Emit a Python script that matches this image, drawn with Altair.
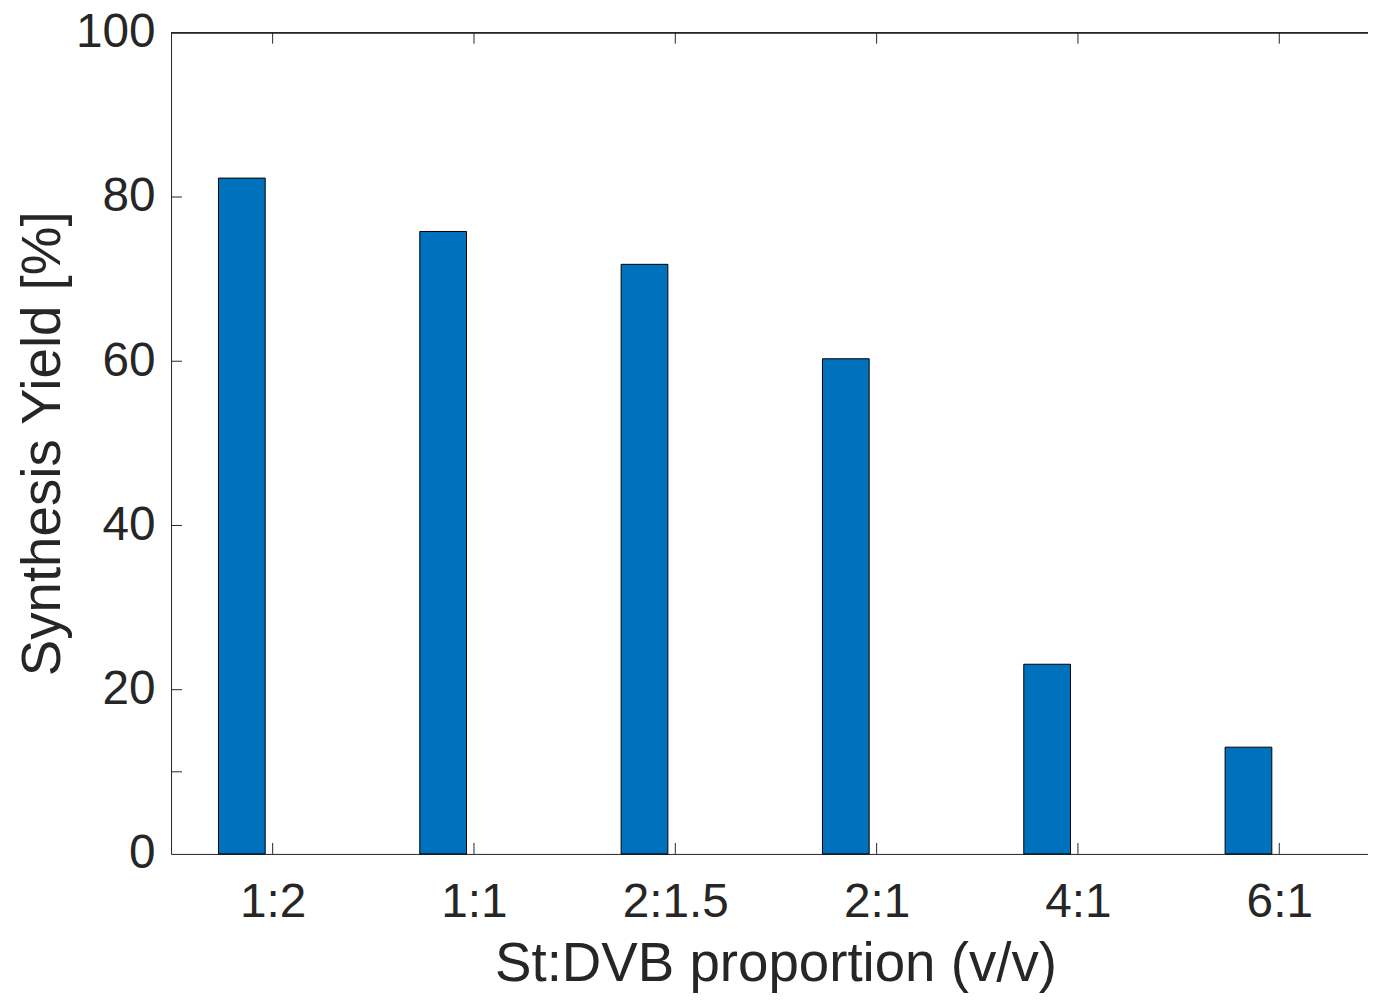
import altair as alt
import pandas as pd

categories = ["1:2", "1:1", "2:1.5", "2:1", "4:1", "6:1"]
yields = [82.3, 75.8, 71.8, 60.3, 23.1, 13.0]
positions = [1, 2, 3, 4, 5, 6]
y_ticks = [10, 20, 40, 60, 80]
y_labels = [0, 20, 40, 60, 80, 100]

W, H = 1204, 826
FONT = "Liberation Sans"
TXT = "#262626"

df = pd.DataFrame({"pos": positions, "cat": categories, "val": yields})
dy = pd.DataFrame({"v": y_ticks})

label_expr = "{" + ",".join(f"'{p}':'{c}'" for p, c in zip(positions, categories)) + "}[datum.value]"

xscale = alt.Scale(domain=[0.52, 6.416], nice=False, zero=False)
yscale = alt.Scale(domain=[0, 100], nice=False)

bars = alt.Chart(df).mark_bar(
    width=47, xOffset=-31, color="#0072BD", stroke="#000000", strokeWidth=1
).encode(
    x=alt.X("pos:Q", scale=xscale,
            axis=alt.Axis(values=positions, labelExpr=label_expr, title="St:DVB proportion (v/v)",
                          grid=False, ticks=False, tickSize=0, labelPadding=63,
                          labelBaseline="alphabetic", labelFontSize=48, labelFont=FONT, labelColor=TXT,
                          titleFont=FONT, titleFontSize=55, titleFontWeight="normal", titleColor=TXT,
                          titleBaseline="alphabetic", titleY=127, titleX=608,
                          domainColor=TXT, domainWidth=1)),
    y=alt.Y("val:Q", scale=yscale,
            axis=alt.Axis(values=y_labels, title="Synthesis Yield [%]", grid=False, ticks=False,
                          tickSize=0, labelPadding=16, labelFontSize=48, labelFont=FONT, labelColor=TXT,
                          titleFont=FONT, titleFontSize=55, titleFontWeight="normal", titleColor=TXT,
                          titleAngle=270, titleBaseline="alphabetic", titleX=-112, titleY=H / 2,
                          domainColor=TXT, domainWidth=1)),
)

bottom_ticks = alt.Chart(df).mark_rule(color=TXT, strokeWidth=1).encode(
    x=alt.X("pos:Q", scale=xscale), y=alt.value(H), y2=alt.value(H - 11)
)
top_ticks = alt.Chart(df).mark_rule(color=TXT, strokeWidth=1).encode(
    x=alt.X("pos:Q", scale=xscale), y=alt.value(0), y2=alt.value(11)
)
left_ticks = alt.Chart(dy).mark_rule(color=TXT, strokeWidth=1).encode(
    y=alt.Y("v:Q", scale=yscale), x=alt.value(0), x2=alt.value(11)
)
top_line = alt.Chart(dy).mark_rule(color=TXT, strokeWidth=1).encode(
    x=alt.value(0), x2=alt.value(W), y=alt.value(0)
)

chart = alt.layer(bars, bottom_ticks, top_ticks, left_ticks, top_line).properties(
    width=W, height=H,
    autosize=alt.AutoSizeParams(type="none"),
    padding={"left": 164, "top": 22, "right": 0, "bottom": 140},
).configure_view(stroke=None).configure(background="white")

chart.save("out.html", embed_options={"renderer": "svg", "actions": False})
